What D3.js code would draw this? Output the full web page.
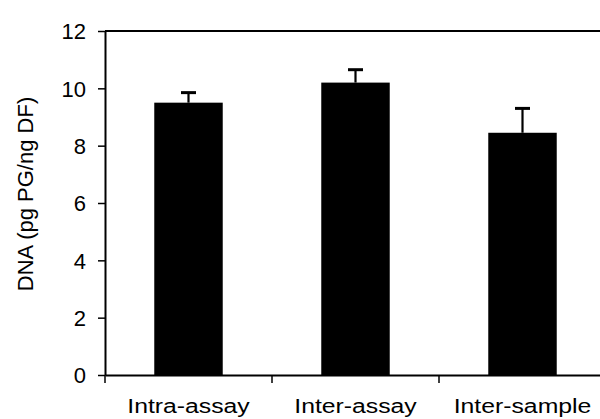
<!DOCTYPE html>
<html><head><meta charset="utf-8">
<script src="https://cdn.jsdelivr.net/npm/d3@7/dist/d3.min.js"></script>
<style>body{margin:0;background:#fff}svg{display:block}</style>
</head><body>
<svg id="c" width="600" height="419"></svg>
<script>
const categories = ["Intra-assay", "Inter-assay", "Inter-sample"];
const values = [9.5, 10.2, 8.45];
const errors = [0.35, 0.45, 0.85];
const yTicks = [0, 2, 4, 6, 8, 10, 12];
const yTitle = "DNA (pg PG/ng DF)";

const svg = d3.select("#c");
const mLeft = 105, mRight = 606, mTop = 31, mBottom = 375;
const font = "Arial, 'Liberation Sans', Helvetica, sans-serif";

const x = d3.scaleBand().domain(categories).range([mLeft, mRight]).padding(0);
const y = d3.scaleLinear().domain([0, 12]).range([mBottom, mTop]);

// top frame line
svg.append("line").attr("x1", mLeft).attr("x2", mRight).attr("y1", y(12)).attr("y2", y(12))
  .attr("stroke", "#000").attr("stroke-width", 2);

// bars
const bw = x.bandwidth() * 0.41;
svg.selectAll("rect.bar").data(categories).join("rect")
  .attr("x", (d) => x(d) + x.bandwidth() / 2 - bw / 2)
  .attr("y", (d, i) => y(values[i]))
  .attr("width", bw)
  .attr("height", (d, i) => y(0) - y(values[i]))
  .attr("fill", "#000");

// error bars
categories.forEach((c, i) => {
  const cx = x(c) + x.bandwidth() / 2;
  svg.append("line").attr("x1", cx).attr("x2", cx)
    .attr("y1", y(values[i])).attr("y2", y(values[i] + errors[i]))
    .attr("stroke", "#000").attr("stroke-width", 2.2);
  svg.append("line").attr("x1", cx - 7.5).attr("x2", cx + 7.5)
    .attr("y1", y(values[i] + errors[i])).attr("y2", y(values[i] + errors[i]))
    .attr("stroke", "#000").attr("stroke-width", 3);
});

// y axis
const ya = svg.append("g").attr("transform", `translate(${mLeft},0)`)
  .call(d3.axisLeft(y).tickValues(yTicks).tickSize(7).tickPadding(12).tickSizeOuter(0));
ya.select(".domain").attr("stroke-width", 2);
ya.selectAll(".tick line").attr("stroke-width", 1.5);
ya.selectAll(".tick text").attr("font-family", font).attr("font-size", 22).attr("fill", "#000")
  .attr("dy", "0.36em");

// x axis
const xa = svg.append("g").attr("transform", `translate(0,${mBottom})`)
  .call(d3.axisBottom(x).tickSize(0).tickSizeOuter(0).tickFormat(""));
xa.select(".domain").attr("stroke-width", 2);
const boundaries = categories.map((c) => x(c));
svg.selectAll("line.xt").data(boundaries).join("line")
  .attr("x1", (d) => d).attr("x2", (d) => d)
  .attr("y1", mBottom).attr("y2", mBottom + 8)
  .attr("stroke", "#000").attr("stroke-width", 1.5);

// x labels
svg.selectAll("text.xl").data(categories).join("text")
  .attr("transform", (d) => `translate(${x(d) + x.bandwidth() / 2},413) scale(1.18,1)`)
  .attr("text-anchor", "middle")
  .attr("font-family", font).attr("font-size", 21).attr("fill", "#000")
  .text((d) => d);

// y title
svg.append("text")
  .attr("transform", `translate(33,194) rotate(-90)`)
  .attr("text-anchor", "middle")
  .attr("font-family", font).attr("font-size", 22).attr("fill", "#000")
  .text(yTitle);
</script>
</body></html>
